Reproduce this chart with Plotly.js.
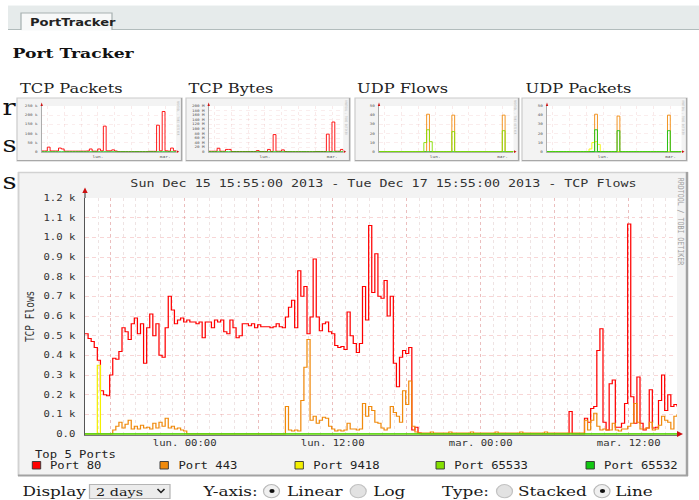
<!DOCTYPE html>
<html>
<head>
<meta charset="utf-8">
<script src="https://cdn.plot.ly/plotly-3.0.1.min.js"></script>
<style>
html,body{margin:0;padding:0;background:#ffffff;overflow:hidden;width:699px;height:500px;}
#chart{width:560px;height:500px;transform:scaleX(1.248214);transform-origin:0 0;}
</style>
</head>
<body>
<div id="chart"></div>
<script>
// ---------------- DATA ----------------
const startTime = '2013-12-15T15:55:00Z';
const stepMinutes = 15;

const seriesNames = ['Port 80', 'Port 443', 'Port 9418', 'Port 65533', 'Port 65532'];
const seriesColors = ['#ff0000', '#f08a0c', '#f4f000', '#84e000', '#12c812'];

// TCP flows, 15-minute samples
const port80 = [
 510,485,470,440,375,220,200,195,300,385,
 380,420,540,520,480,560,590,510,560,360,
 540,610,500,560,400,390,540,700,630,560,
 580,590,570,580,570,570,560,570,490,570,
 570,540,580,570,580,520,510,580,540,490,
 500,560,560,550,560,540,555,545,545,545,
 540,545,560,545,540,595,645,680,540,830,
 700,750,510,595,890,595,525,560,570,520,
 510,450,440,445,430,620,500,460,415,460,
 750,580,1060,720,916,700,690,780,600,700,
 360,240,390,425,410,440,20,35,5,0,
 0,0,0,0,0,0,0,0,0,0,
 0,0,0,0,0,0,0,0,0,0,
 0,0,0,0,0,0,0,0,0,0,
 0,0,0,0,0,0,0,0,0,0,
 0,0,0,0,0,0,0,115,0,0,
 0,0,80,60,130,140,425,535,60,20,
 255,275,35,35,55,155,1068,190,55,290,
 55,20,30,225,30,35,170,300,120,200,
 140,150,140];
const port443 = [
 0,0,0,0,0,0,0,0,0,20,
 40,60,30,50,70,25,40,25,45,30,
 35,25,55,30,60,40,80,30,40,25,
 30,20,15,0,0,0,0,0,0,0,
 0,0,0,0,0,0,0,0,0,0,
 0,0,0,0,0,0,0,0,0,0,
 0,0,0,0,0,140,20,15,20,15,
 170,340,480,70,90,55,70,85,80,40,
 25,15,20,15,20,55,25,25,20,25,
 155,90,140,120,60,55,30,20,30,140,
 110,90,60,220,150,270,40,10,5,5,
 5,5,10,5,5,5,5,5,10,5,
 5,5,5,5,5,10,5,5,5,5,
 5,5,5,10,5,5,5,5,5,5,
 5,10,5,5,5,5,5,5,5,10,
 5,5,5,5,5,5,5,5,5,5,
 5,5,70,20,70,105,40,20,25,20,
 20,55,20,15,25,25,40,55,155,60,
 25,25,30,60,20,25,45,90,70,60,
 25,90,100];
const port9418 = [
 0,0,0,0,350,0,0,0,0,0,
 0,0,0,0,0,0,0,0,0,0, 0,0,0,0,0,0,0,0,0,0, 0,0,0,0,0,0,0,0,0,0,
 0,0,0,0,0,0,0,0,0,0, 0,0,0,0,0,0,0,0,0,0, 0,0,0,0,0,0,0,0,0,0,
 0,0,0,0,0,0,0,0,0,0, 0,0,0,0,0,0,0,0,0,0, 0,0,0,0,0,0,0,0,0,0,
 0,0,0,0,0,0,0,0,0,0, 0,0,0,0,0,0,0,0,0,0, 0,0,0,0,0,0,0,0,0,0,
 0,0,0,0,0,0,0,0,0,0, 0,0,0,0,0,0,0,0,0,0, 0,0,0,0,0,0,0,0,0,0,
 0,0,0,0,0,0,0,0,0,0, 0,0,0,0,0,0,0,0,0,0, 0,0,0,0,0,0,0,0,0,0,
 0,0,0];
const port65533 = [
 0,0,0,0,0,0,0,0,0,0, 0,0,0,0,0,0,0,0,0,0, 0,0,0,0,0,0,0,0,0,0, 0,0,0,0,0,0,0,0,0,0,
 0,0,0,0,0,0,0,0,0,0, 0,0,0,0,0,0,0,0,0,0, 0,0,0,0,0,0,0,0,0,0, 0,0,0,0,0,0,0,0,0,0,
 0,0,0,0,0,0,0,0,0,0, 0,0,0,0,0,0,0,0,0,0, 0,0,0,0,0,0,0,0,0,0, 0,0,0,0,0,0,0,0,0,0,
 0,0,0,0,0,0,0,0,0,0, 0,0,0,0,0,0,0,0,0,0, 0,0,0,0,0,0,0,0,0,0, 0,0,0,0,0,0,0,0,0,0,
 0,0,0,0,0,0,0,0,0,0, 0,0,0,0,0,0,0,0,0,0, 0,0,0,0,0,0,0,0,0,0,
 0,0,0];
const port65532 = [
 0,0,0,0,0,0,0,0,0,0, 0,0,0,0,0,0,0,0,0,0, 0,0,0,0,0,0,0,0,0,0, 0,0,0,0,0,0,0,0,0,0,
 0,0,0,0,0,0,0,0,0,0, 0,0,0,0,0,0,0,0,0,0, 0,0,0,0,0,0,0,0,0,0, 0,0,0,0,0,0,0,0,0,0,
 0,0,0,0,0,0,0,0,0,0, 0,0,0,0,0,0,0,0,0,0, 0,0,0,0,0,0,0,0,0,0, 0,0,0,0,0,0,0,0,0,0,
 0,0,0,0,0,0,0,0,0,0, 0,0,0,0,0,0,0,0,0,0, 0,0,0,0,0,0,0,0,0,0, 0,0,0,0,0,0,0,0,0,0,
 0,0,0,0,0,0,0,0,0,0, 0,0,0,0,0,0,0,0,0,0, 0,0,0,0,0,0,0,0,0,0,
 0,0,0];

const yTickVals = [0,100,200,300,400,500,600,700,800,900,1000,1100,1200];
const yTickText = ['0.0','0.1 k','0.2 k','0.3 k','0.4 k','0.5 k','0.6 k','0.7 k','0.8 k','0.9 k','1.0 k','1.1 k','1.2 k'];
const mainTickTimes = ['2013-12-15 18:00','2013-12-16 00:00','2013-12-16 06:00','2013-12-16 12:00',
                       '2013-12-16 18:00','2013-12-17 00:00','2013-12-17 06:00','2013-12-17 12:00'];
const mainTickText = ['','lun. 00:00','','lun. 12:00','','mar. 00:00','','mar. 12:00'];

// thumbnails, hourly samples
const thumbTitles = ['TCP Packets','TCP Bytes','UDP Flows','UDP Packets'];
const thumbTickText = ['','','','lun.','','','','mar.'];
const tcpPacketsK = [4,4,25,4,4,4,20,15,3,3, 3,3,3,3,3,3,4,15,3,3, 15,5,140,5,5,10,4,0,0,0, 0,0,0,0,0,0,0,0,2,2, 2,145,5,220,5,3,20,5,3];
const tcpBytesM = [2,2,2,15,2,2,10,10,1,1, 1,1,1,1,1,1,1,5,1,1, 1,10,1,75,2,2,8,1,0,0, 0,0,0,0,0,0,0,0,1,1, 1,1,77,1,130,2,2,10,2];
const udpFlowsOrange = [0,0,0,0,0,0,0,0,0,0, 0,0,0,0,0,0,0,41,0,0, 0,0,0,0,0,0,40,0,0,0, 0,0,0,0,0,0,0,0,0,0, 0,0,0,0,40,0,0,0,0];
const udpFlowsGreen = [0,0,0,0,0,0,0,0,0,0, 0,0,0,0,0,0,10,24,11,0, 0,0,0,0,0,0,22,0,0,0, 0,0,0,0,0,0,0,0,0,0, 0,0,0,0,23,0,0,0,0];
const udpPacketsOrange = [0,0,0,0,0,0,0,0,0,0, 0,0,0,0,0,0,0,41,0,0, 0,0,0,0,0,39,0,0,0,0, 0,0,0,0,0,0,0,0,0,0, 0,0,0,40,0,0,0,0,0];
const udpPacketsGreen = [0,0,0,0,0,0,0,0,0,0, 0,0,0,0,0,0,0,24,0,0, 0,0,0,0,0,23,0,0,0,0, 0,0,0,0,0,0,0,0,0,0, 0,0,0,23,0,0,0,0,0];
const udpPacketsYellow = [0,0,0,0,0,0,0,0,0,0, 0,0,0,0,0,3,10,11,8,0, 0,0,0,0,0,0,0,0,0,0, 0,0,0,0,0,0,0,0,0,0, 0,0,0,0,0,0,0,0,0];
const thumbBaseline = [0,0,0,0,0,0,0,0,0,0, 0,0,0,0,0,0,0,0,0,0, 0,0,0,0,0,0,0,0,0,0, 0,0,0,0,0,0,0,0,0,0, 0,0,0,0,0,0,0,0,0];
const packetsTickVals = [0,50,100,150,200,250];
const packetsTickText = ['0','50 k','100 k','150 k','200 k','250 k'];
const bytesTickVals = [0,20,40,60,80,100,120,140,160,180,200];
const bytesTickText = ['0','20 M','40 M','60 M','80 M','100 M','120 M','140 M','160 M','180 M','200 M'];
const udpTickVals = [0,10,20,30,40,50];
const udpTickText = ['0','10','20','30','40','50'];

// ---------------- HELPERS ----------------
const W = 699, H = 500;
const X = p => p / W;
const Y = p => 1 - p / H;
const mono = 'DejaVu Sans Mono';
const serif = 'DejaVu Serif';
const t0 = Date.parse(startTime);
const fmt = ms => new Date(ms).toISOString().replace('T', ' ').slice(0, 19);
const mainX = port80.map((v, i) => fmt(t0 + i * stepMinutes * 60000));
const hourX = thumbBaseline.map((v, i) => fmt(t0 + i * 3600000));
const fullRange = [fmt(t0), fmt(t0 + 48 * 3600000)];

function rect(x0, y0, x1, y1, fill, lineColor, lw, layer) {
  return {type:'rect', xref:'paper', yref:'paper', x0:X(x0), x1:X(x1), y0:Y(y1), y1:Y(y0),
    fillcolor:fill, line:{color:lineColor || 'rgba(0,0,0,0)', width:lw || 0}, layer:layer || 'below'};
}
function seg(x0, y0, x1, y1, color, w, layer) {
  return {type:'line', xref:'paper', yref:'paper', x0:X(x0), x1:X(x1), y0:Y(y0), y1:Y(y1),
    line:{color:color, width:w}, layer:layer || 'below'};
}
function poly(pts, fill, stroke, w, close) {
  const d = pts.map((p, k) => (k ? 'L' : 'M') + X(p[0]).toFixed(5) + ',' + Y(p[1]).toFixed(5)).join(' ') + (close ? ' Z' : '');
  return {type:'path', xref:'paper', yref:'paper', path:d, fillcolor:fill,
    line:{color:stroke || 'rgba(0,0,0,0)', width:w || 0}, layer:'above'};
}
function circ(cx, cy, rx, ry, fill, stroke) {
  return {type:'circle', xref:'paper', yref:'paper', x0:X(cx - rx), x1:X(cx + rx), y0:Y(cy + ry), y1:Y(cy - ry),
    fillcolor:fill, line:{color:stroke || 'rgba(0,0,0,0)', width:stroke ? 1 : 0}, layer:'above'};
}
function txt(s, x, y, size, opts) {
  opts = opts || {};
  return Object.assign({text:s, xref:'paper', yref:'paper', x:X(x), y:Y(y), showarrow:false,
    xanchor:'left', yanchor:'middle', font:{family:opts.family || serif, size:size, color:opts.color || '#1a1a1a'}},
    opts.extra || {});
}

// ---------------- TRACES ----------------
const mainSeries = [port80, port443, port9418, port65533, port65532];
const traces = mainSeries.map((ys, k) => ({
  type:'scatter', mode:'lines', x:mainX, y:ys, name:seriesNames[k],
  line:{color:seriesColors[k], width:1, shape:'hv'}, xaxis:'x', yaxis:'y', hoverinfo:'skip'
}));

function thumbTrace(ys, color, n) {
  return {type:'scatter', mode:'lines', x:hourX, y:ys, line:{color:color, width:0.8, shape:'hv'},
    xaxis:'x' + n, yaxis:'y' + n, hoverinfo:'skip', showlegend:false};
}
traces.push(thumbTrace(tcpPacketsK, seriesColors[0], 2));
traces.push(thumbTrace(thumbBaseline, seriesColors[4], 2));
traces.push(thumbTrace(tcpBytesM, seriesColors[0], 3));
traces.push(thumbTrace(thumbBaseline, seriesColors[4], 3));
traces.push(thumbTrace(udpFlowsOrange, seriesColors[1], 4));
traces.push(thumbTrace(thumbBaseline, seriesColors[4], 4));
traces.push(thumbTrace(udpFlowsGreen, seriesColors[3], 4));
traces.push(thumbTrace(udpPacketsOrange, seriesColors[1], 5));
traces.push(thumbTrace(thumbBaseline, seriesColors[4], 5));
traces.push(thumbTrace(udpPacketsYellow, seriesColors[2], 5));
traces.push(thumbTrace(udpPacketsGreen, seriesColors[4], 5));

// ---------------- LAYOUT ----------------
const thumbFrames = [[17,182],[186,350],[355,519],[522,687]];
const thumbPlotLeft = [41.7, 208.7, 379, 547];
const thumbPlotW = 134.5;

function thumbX(n, left) {
  return {type:'date', domain:[X(left), X(left + thumbPlotW)], range:fullRange, anchor:'y' + n,
    tickmode:'array', tickvals:mainTickTimes, ticktext:thumbTickText,
    tickfont:{family:mono, size:3.6, color:'#555'}, ticks:'', ticklabelstandoff:1,
    showgrid:true, gridcolor:'rgba(225,150,150,0.3)', griddash:'dot', gridwidth:0.6,
    showline:true, linecolor:'#999', linewidth:0.6, zeroline:false, fixedrange:true};
}
function thumbY(n, top, vals, text) {
  return {domain:[Y(152.4), Y(106)], range:[-top * 0.015, top], anchor:'x' + n,
    tickmode:'array', tickvals:vals, ticktext:text,
    tickfont:{family:mono, size:3.4, color:'#555'}, ticks:'', ticklabelstandoff:2,
    showgrid:true, gridcolor:'rgba(230,160,160,0.28)', griddash:'dot', gridwidth:0.6,
    showline:true, linecolor:'#888', linewidth:0.6, zeroline:false, fixedrange:true};
}

const shapes = [];
// tab bar
shapes.push(rect(8, 5, 699, 29.5, '#e6ebeb'));
shapes.push(seg(8, 5.5, 699, 5.5, '#f3f6f6', 1));
shapes.push(seg(8, 29.5, 699, 29.5, '#b2bcbc', 1));
shapes.push(rect(21, 13, 112, 30.5, '#f8f9f9'));
shapes.push(Object.assign(poly([[21,30],[21,13],[112,13],[112,30]], 'rgba(0,0,0,0)', '#a8b2b2', 1, false), {layer:'below'}));
// main frame
shapes.push(rect(18, 172, 688, 476, '#f3f3f3'));
shapes.push(seg(18, 172.5, 688, 172.5, '#d2d2d2', 1.5));
shapes.push(seg(18.5, 172, 18.5, 476, '#d2d2d2', 1.5));
shapes.push(seg(18, 475.5, 688, 475.5, '#a2a2a2', 2));
shapes.push(seg(687, 172, 687, 476, '#a2a2a2', 2));
shapes.push(rect(85, 198, 677, 434.8, '#ffffff'));
// thumbnail frames
thumbFrames.forEach((f, k) => {
  shapes.push(rect(f[0], 98, f[1], 161, '#f3f3f3', '#cccccc', 1));
  shapes.push(seg(f[0], 160.5, f[1], 160.5, '#a8a8a8', 1));
  shapes.push(seg(f[1] - 0.5, 98, f[1] - 0.5, 161, '#a8a8a8', 1));
  const l = thumbPlotLeft[k];
  shapes.push(rect(l, 106, l + thumbPlotW, 152.4, '#ffffff'));
  shapes.push(poly([[l - 1.2, 106], [l + 1.2, 106], [l, 102.5]], '#cc1010', null, 0, true));
  shapes.push(poly([[l + thumbPlotW + 0.5, 150.3], [l + thumbPlotW + 0.5, 153.1], [l + thumbPlotW + 3, 151.7]], '#cc1010', null, 0, true));
});
// main axis arrows
shapes.push(seg(85, 198, 85, 192, '#555555', 1, 'above'));
shapes.push(poly([[82.3, 193], [87.7, 193], [85, 187.5]], '#cc1010', null, 0, true));
shapes.push(poly([[677, 431], [677, 437], [683, 434]], '#cc1010', null, 0, true));
// legend boxes
const legendBoxLeft = [32.3, 160, 295, 436, 586];
legendBoxLeft.forEach((bx, k) => {
  shapes.push(rect(bx, 461.5, bx + 8.4, 469, seriesColors[k], '#333333', 0.8, 'above'));
});
// form controls
shapes.push(rect(89.5, 484.5, 170, 498.5, '#ececec', '#b5b5b5', 1, 'above'));
shapes.push(poly([[157.5, 489], [161, 492.5], [164.5, 489]], 'rgba(0,0,0,0)', '#222222', 1.2, false));
shapes.push(circ(271.5, 491.2, 8, 6.6, '#f0f0f0', '#b9b9b9'));
shapes.push(circ(358.2, 491.2, 8, 6.6, '#e2e2e2', '#c2c2c2'));
shapes.push(circ(504.5, 491.2, 8, 6.6, '#e2e2e2', '#c2c2c2'));
shapes.push(circ(602, 491.2, 8, 6.6, '#f0f0f0', '#b9b9b9'));
shapes.push(circ(272, 491, 2.6, 2.1, '#111111'));
shapes.push(circ(602.5, 491, 2.6, 2.1, '#111111'));

const annotations = [];
annotations.push(txt('<b>PortTracker</b>', 27, 21.5, 10.5, {family:'DejaVu Sans', color:'#222'}));
annotations.push(txt('<b>Port Tracker</b>', 10, 53, 13.8, {color:'#111'}));
annotations.push(txt('r', 0, 107.5, 22, {color:'#111'}));
annotations.push(txt('s', 0, 144, 22, {color:'#111'}));
annotations.push(txt('s', 0, 181, 22, {color:'#111'}));
const thumbTitleX = [18, 186, 355, 523];
thumbTitles.forEach((s, k) => annotations.push(txt(s, thumbTitleX[k], 89, 13, {color:'#222'})));
thumbFrames.forEach(f => annotations.push(txt('RRDTOOL / TOBI OETIKER', f[1] - 3.5, 118, 2.6,
  {family:mono, color:'#b5b5b5', extra:{textangle:90, xanchor:'center'}})));
annotations.push(txt('RRDTOOL / TOBI OETIKER', 680.5, 221, 6.6, {family:mono, color:'#a0a0a0', extra:{textangle:90, xanchor:'center'}}));
annotations.push(txt('Top 5 Ports', 33, 454, 9.8, {family:mono, color:'#222'}));
legendBoxLeft.forEach((bx, k) => annotations.push(txt(seriesNames[k], bx + 15.5, 465.3, 9.8, {family:mono, color:'#222'})));
annotations.push(txt('Display', 20, 491, 13.5));
annotations.push(txt('2 days', 93, 491.5, 11.5));
annotations.push(txt('Y-axis:', 200, 491, 13.5));
annotations.push(txt('Linear', 284, 491, 13.5));
annotations.push(txt('Log', 370.5, 491, 13.5));
annotations.push(txt('Type:', 439, 491, 13.5));
annotations.push(txt('Stacked', 515.5, 491, 13.5));
annotations.push(txt('Line', 613, 491, 13.5));

const layout = {
  width:560, height:500, autosize:false,
  margin:{l:0, r:0, t:0, b:0, pad:0},
  paper_bgcolor:'#ffffff', plot_bgcolor:'rgba(0,0,0,0)',
  showlegend:false,
  title:{text:'Sun Dec 15 15:55:00 2013 - Tue Dec 17 15:55:00 2013 - TCP Flows',
    x:X(383.5), y:Y(183.5), xanchor:'center', yanchor:'middle',
    font:{family:mono, size:10.7, color:'#333'}},
  xaxis:{type:'date', domain:[X(85), X(677)], range:fullRange, anchor:'y',
    tickmode:'array', tickvals:mainTickTimes, ticktext:mainTickText,
    tickfont:{family:mono, size:8.5, color:'#333'}, ticks:'',
    showgrid:true, gridcolor:'rgba(230,120,120,0.38)', griddash:'dot', gridwidth:0.8,
    minor:{dtick:3600000, tick0:'2013-12-15 16:00:00', showgrid:true,
      gridcolor:'rgba(200,165,165,0.35)', griddash:'dot', gridwidth:0.8, ticks:''},
    showline:true, linecolor:'#777', linewidth:1, zeroline:false, fixedrange:true},
  yaxis:{domain:[Y(434.8), Y(198)], range:[-4, 1200], anchor:'x',
    tickmode:'array', tickvals:yTickVals, ticktext:yTickText,
    tickfont:{family:mono, size:8.5, color:'#333'}, ticks:'', ticklabelstandoff:5,
    showgrid:true, gridcolor:'rgba(235,135,135,0.38)', griddash:'dot', gridwidth:0.8,
    showline:true, linecolor:'#555', linewidth:1, zeroline:false, fixedrange:true,
    title:{text:'TCP Flows', font:{family:mono, size:9.5, color:'#333'}, standoff:5}},
  xaxis2:thumbX(2, thumbPlotLeft[0]), yaxis2:thumbY(2, 250, packetsTickVals, packetsTickText),
  xaxis3:thumbX(3, thumbPlotLeft[1]), yaxis3:thumbY(3, 200, bytesTickVals, bytesTickText),
  xaxis4:thumbX(4, thumbPlotLeft[2]), yaxis4:thumbY(4, 50, udpTickVals, udpTickText),
  xaxis5:thumbX(5, thumbPlotLeft[3]), yaxis5:thumbY(5, 50, udpTickVals, udpTickText),
  shapes:shapes,
  annotations:annotations
};

Plotly.newPlot('chart', traces, layout, {staticPlot:true, displayModeBar:false});
</script>
</body>
</html>
